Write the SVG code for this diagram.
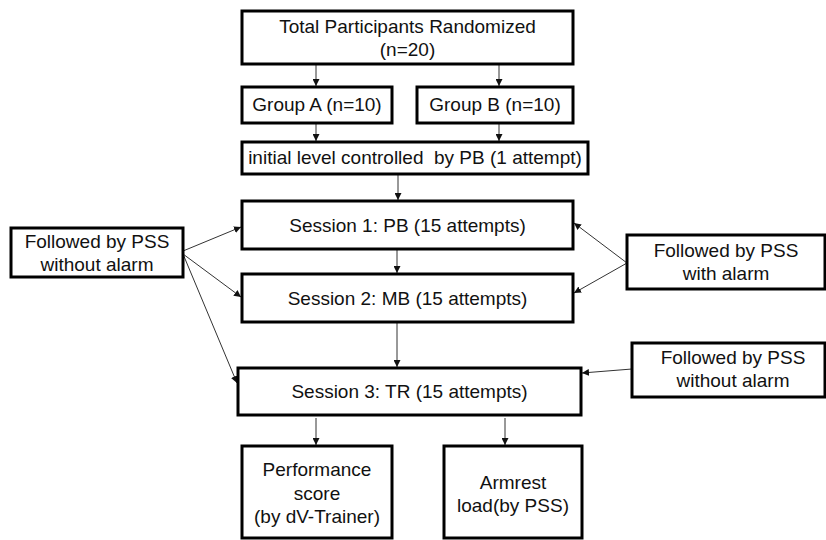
<svg xmlns="http://www.w3.org/2000/svg" width="826" height="540" viewBox="0 0 826 540">
<style>
.box{fill:#fff;stroke:#000;stroke-width:3}
.t{font-family:"Liberation Sans",Arial,sans-serif;font-size:19px;fill:#111;text-anchor:middle}
.c{stroke:#333;stroke-width:1;fill:none;marker-end:url(#ah)}
</style>
<defs>
<marker id="ah" viewBox="0 0 10 10" refX="10" refY="5" markerWidth="7" markerHeight="7" markerUnits="userSpaceOnUse" orient="auto">
<path d="M0,0 L10,5 L0,10 z" fill="#111"/>
</marker>
</defs>
<rect width="826" height="540" fill="#fff"/>
<g id="connectors">
<line class="c" x1="316" y1="64" x2="316" y2="86"/>
<line class="c" x1="499" y1="64" x2="499" y2="86"/>
<line class="c" x1="316" y1="123" x2="316" y2="141"/>
<line class="c" x1="499" y1="123" x2="499" y2="141"/>
<line class="c" x1="398" y1="174" x2="398" y2="200"/>
<line class="c" x1="397" y1="249" x2="397" y2="273"/>
<line class="c" x1="397" y1="322" x2="397" y2="367"/>
<line class="c" x1="183" y1="251" x2="241" y2="227"/>
<line class="c" x1="183" y1="254" x2="241" y2="297"/>
<line class="c" x1="183" y1="254" x2="237" y2="383"/>
<line class="c" x1="627" y1="263" x2="574" y2="223"/>
<line class="c" x1="627" y1="263" x2="574" y2="293"/>
<line class="c" x1="632" y1="369" x2="582" y2="373"/>
<line class="c" x1="316" y1="418" x2="316" y2="445"/>
<line class="c" x1="505" y1="418" x2="505" y2="445"/>
</g>
<g id="total">
<rect class="box" x="242" y="11" width="331" height="53"/>
<text class="t" x="407.5" y="33">Total Participants Randomized</text>
<text class="t" x="407.5" y="56">(n=20)</text>
</g>
<g id="groupA">
<rect class="box" x="242" y="87" width="150" height="36"/>
<text class="t" x="317" y="111">Group A (n=10)</text>
</g>
<g id="groupB">
<rect class="box" x="417" y="87" width="156" height="36"/>
<text class="t" x="495" y="111">Group B (n=10)</text>
</g>
<g id="initial">
<rect class="box" x="242" y="142" width="346" height="32"/>
<text class="t" x="415" y="164" xml:space="preserve">initial level controlled  by PB (1 attempt)</text>
</g>
<g id="session1">
<rect class="box" x="242" y="201" width="331" height="48"/>
<text class="t" x="407.5" y="232">Session 1: PB (15 attempts)</text>
</g>
<g id="session2">
<rect class="box" x="242" y="274" width="331" height="48"/>
<text class="t" x="407.5" y="305">Session 2: MB (15 attempts)</text>
</g>
<g id="session3">
<rect class="box" x="238" y="368" width="343" height="47"/>
<text class="t" x="409.5" y="398">Session 3: TR (15 attempts)</text>
</g>
<g id="left-pss">
<rect class="box" x="11" y="228" width="172" height="49"/>
<text class="t" x="97" y="248">Followed by PSS</text>
<text class="t" x="97" y="271">without alarm</text>
</g>
<g id="right-pss-alarm">
<rect class="box" x="627" y="235" width="198" height="54"/>
<text class="t" x="726" y="257">Followed by PSS</text>
<text class="t" x="726" y="280">with alarm</text>
</g>
<g id="right-pss-noalarm">
<rect class="box" x="632" y="343" width="193" height="54"/>
<text class="t" x="733" y="364">Followed by PSS</text>
<text class="t" x="733" y="387">without alarm</text>
</g>
<g id="performance">
<rect class="box" x="242" y="446" width="150" height="92"/>
<text class="t" x="317" y="476">Performance</text>
<text class="t" x="317" y="500">score</text>
<text class="t" x="317" y="523">(by dV-Trainer)</text>
</g>
<g id="armrest">
<rect class="box" x="444" y="446" width="138" height="92"/>
<text class="t" x="513" y="489">Armrest</text>
<text class="t" x="513" y="512">load(by PSS)</text>
</g>
</svg>
